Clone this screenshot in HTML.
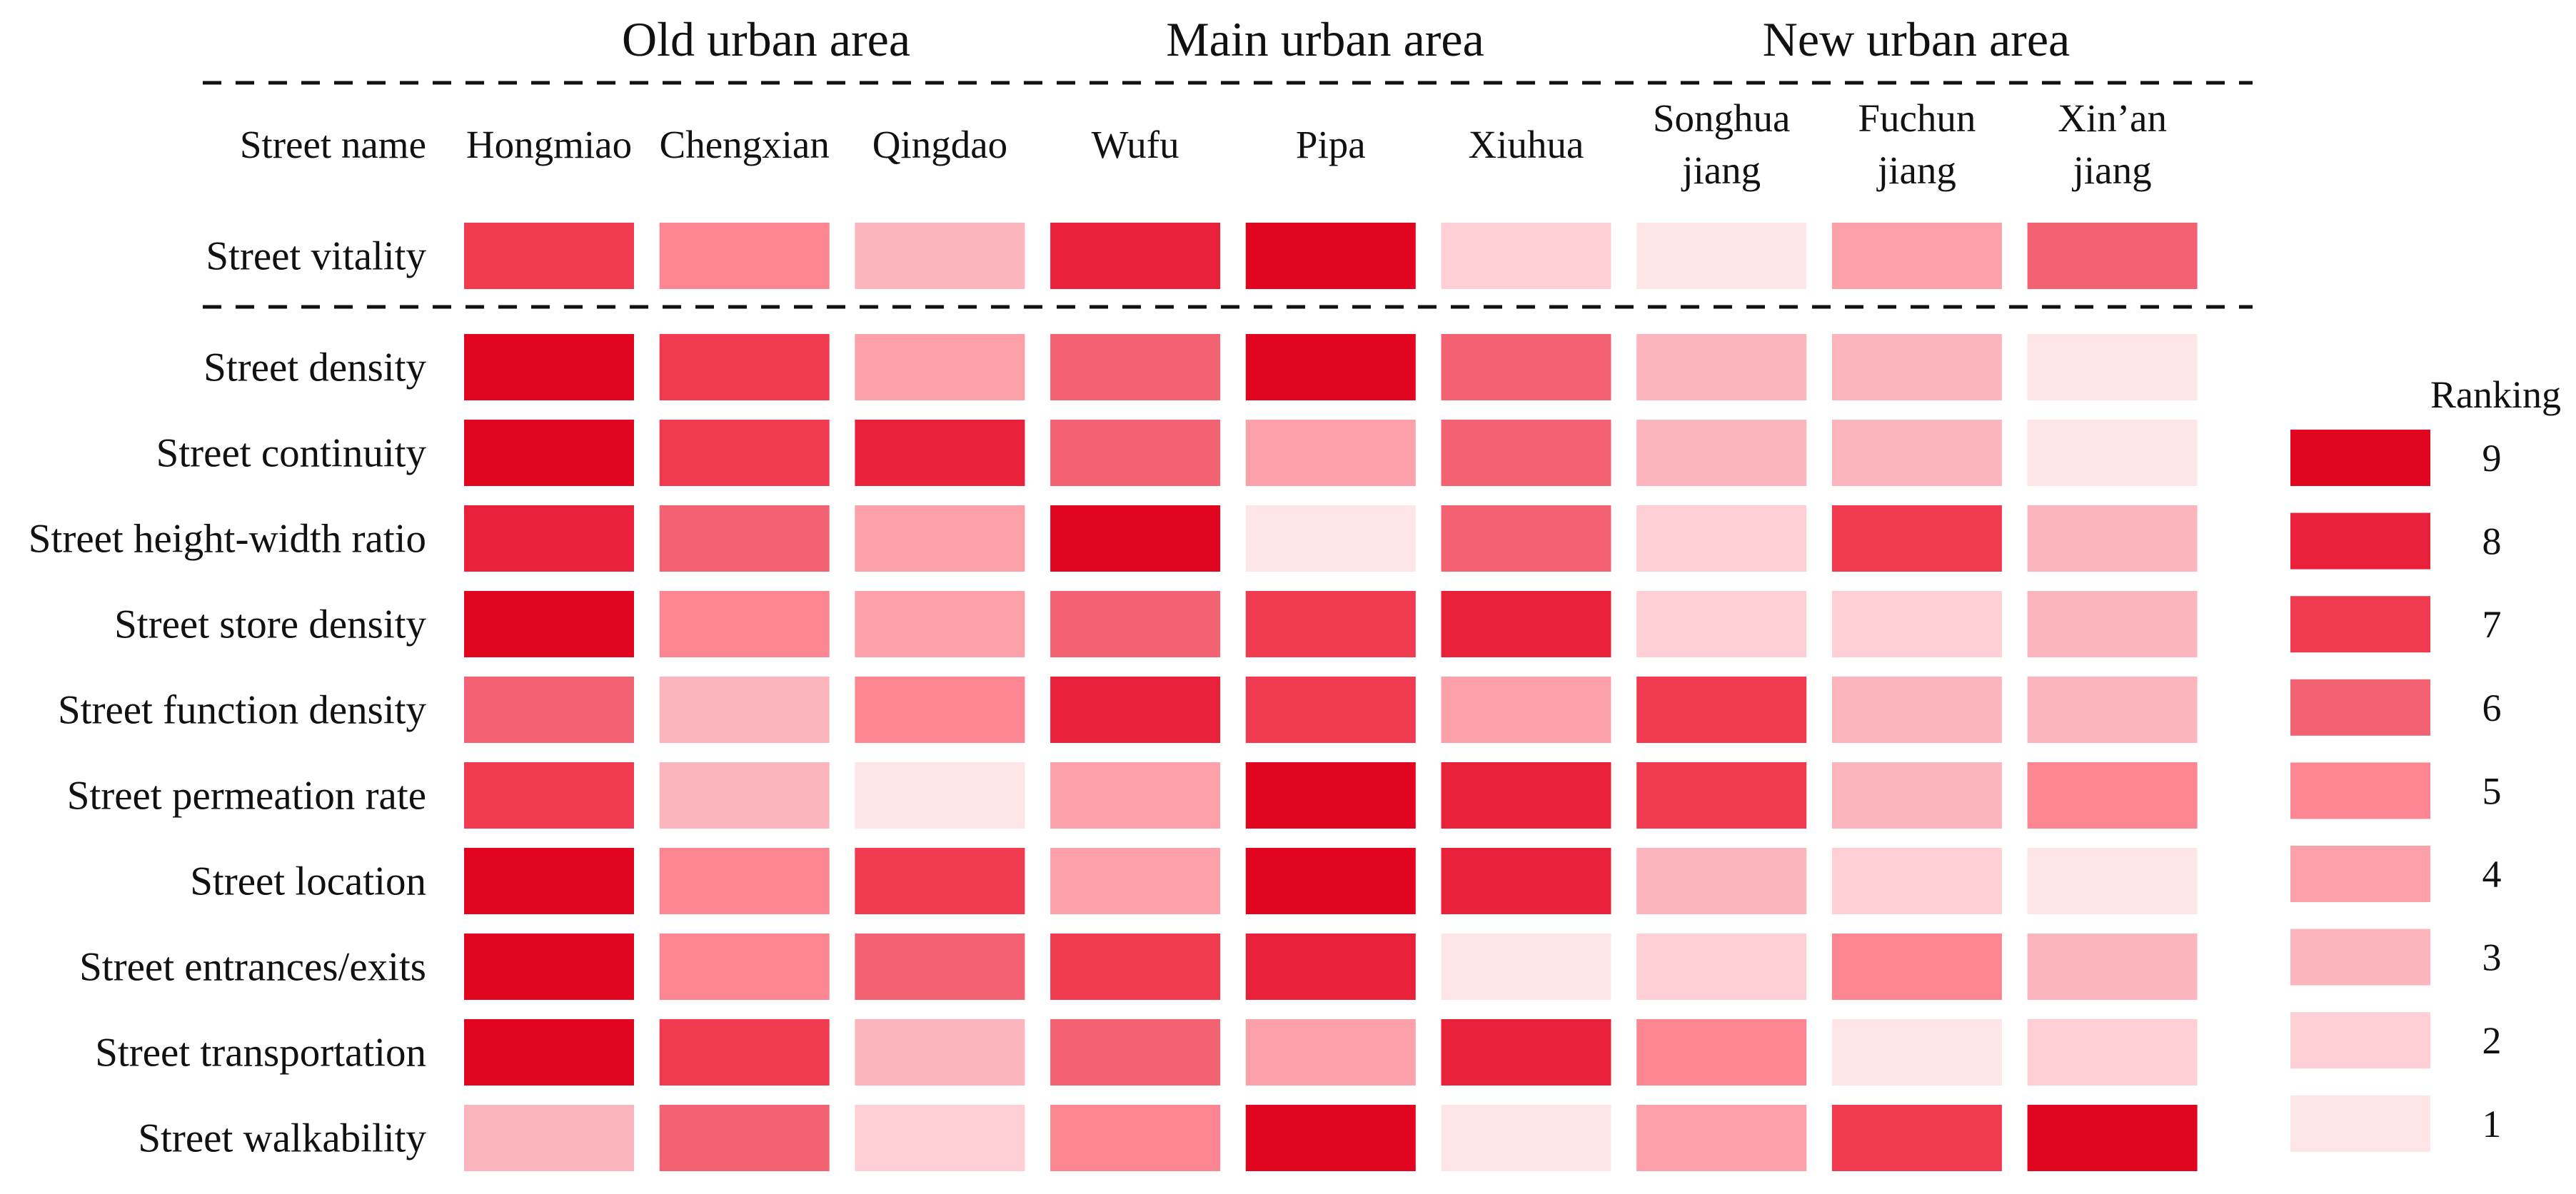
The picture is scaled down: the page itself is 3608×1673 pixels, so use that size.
<!DOCTYPE html>
<html><head><meta charset="utf-8"><style>
html,body{margin:0;padding:0;background:#fff;}
svg{display:block;font-family:"Liberation Serif","Times New Roman",serif;}
</style></head><body>
<svg id="chart" width="3608" height="1673" viewBox="0 0 3608 1673" xmlns="http://www.w3.org/2000/svg">
<rect width="3608" height="1673" fill="#fff"/>
<g id="titles"></g>
<g id="cells"></g>
<g id="legend"></g>
</svg>
<script>
const streets = ["Hongmiao","Chengxian","Qingdao","Wufu","Pipa","Xiuhua","Songhua|jiang","Fuchun|jiang","Xin\u2019an|jiang"];
const indicators = ["Street vitality","Street density","Street continuity","Street height-width ratio","Street store density","Street function density","Street permeation rate","Street location","Street entrances/exits","Street transportation","Street walkability"];
const rVitality = [7,5,3,8,9,2,1,4,6];
const rDensity = [9,7,4,6,9,6,3,3,1];
const rContinuity = [9,7,8,6,4,6,3,3,1];
const rHeightWidth = [8,6,4,9,1,6,2,7,3];
const rStore = [9,5,4,6,7,8,2,2,3];
const rFunction = [6,3,5,8,7,4,7,3,3];
const rPermeation = [7,3,1,4,9,8,7,3,5];
const rLocation = [9,5,7,4,9,8,3,2,1];
const rEntrances = [9,5,6,7,8,1,2,5,3];
const rTransport = [9,7,3,6,4,8,5,1,2];
const rWalk = [3,6,2,5,9,1,4,7,9];
const rankLevels = [9,8,7,6,5,4,3,2,1];
const areaTitles = ["Old urban area","Main urban  area","New urban area"];

const rows = [rVitality,rDensity,rContinuity,rHeightWidth,rStore,rFunction,rPermeation,rLocation,rEntrances,rTransport,rWalk];
const palette = {9:"#e2051f",8:"#e92039",7:"#ef3a50",6:"#f36272",5:"#fc8592",4:"#fca0aa",3:"#fdb5bd",2:"#fecfd5",1:"#fee5e8"};
const NS="http://www.w3.org/2000/svg";
function mk(tag, attrs, parent){const e=document.createElementNS(NS,tag);for(const k in attrs)e.setAttribute(k,attrs[k]);parent.appendChild(e);return e;}
const colX = i => 650 + i*273.7;
const colW = 238;
const rowY = r => r===0 ? 312 : 468 + (r-1)*120;
const rowH = 93;

const T=document.getElementById('titles');
const C=document.getElementById('cells');
const L=document.getElementById('legend');

const areaCenters=[1073,1856,2684];
areaTitles.forEach((t,i)=>{
  const e=mk('text',{x:areaCenters[i],y:78,'font-size':68,'text-anchor':'middle',fill:'#111','xml:space':'preserve'},T);
  e.textContent=t;
  
  
});
[116,430].forEach(y=>{
  const l=mk('line',{x1:284,x2:3155,y1:y,y2:y,stroke:'#111','stroke-width':5,'stroke-dasharray':'26 20'},T);
  
  
});
const sn=mk('text',{x:597,y:221,'font-size':55,'text-anchor':'end',fill:'#111'},T);
sn.textContent="Street name";


streets.forEach((s,i)=>{
  const cx=colX(i)+colW/2;
  const parts=s.split('|');
  if(parts.length===1){
    const e=mk('text',{x:cx,y:221,'font-size':55,'text-anchor':'middle',fill:'#111'},T);
    e.textContent=parts[0];
    
    
  } else {
    parts.forEach((p,j)=>{
      const e=mk('text',{x:cx,y:184+j*73,'font-size':55,'text-anchor':'middle',fill:'#111'},T);
      e.textContent=p;
      
      
    });
  }
});
rows.forEach((vals,r)=>{
  const y=rowY(r);
  const lab=mk('text',{x:597,y:y+rowH/2+19,'font-size':57,'text-anchor':'end',fill:'#111'},T);
  lab.textContent=indicators[r];
  
  
  vals.forEach((v,i)=>{
    const rc=mk('rect',{x:colX(i),y:y,width:colW,height:rowH,fill:palette[v]},C);
    
    
  });
});
const lt=mk('text',{x:3587,y:571,'font-size':54,'text-anchor':'end',fill:'#111'},L);
lt.textContent="Ranking";


rankLevels.forEach((v,k)=>{
  const y=602+k*116.6;
  const rc=mk('rect',{x:3208,y:y,width:196,height:79,fill:palette[v]},L);
  
  
  const t=mk('text',{x:3490,y:y+58,'font-size':54,'text-anchor':'middle',fill:'#111'},L);
  t.textContent=String(v);
  
  
});
</script>
</body></html>
